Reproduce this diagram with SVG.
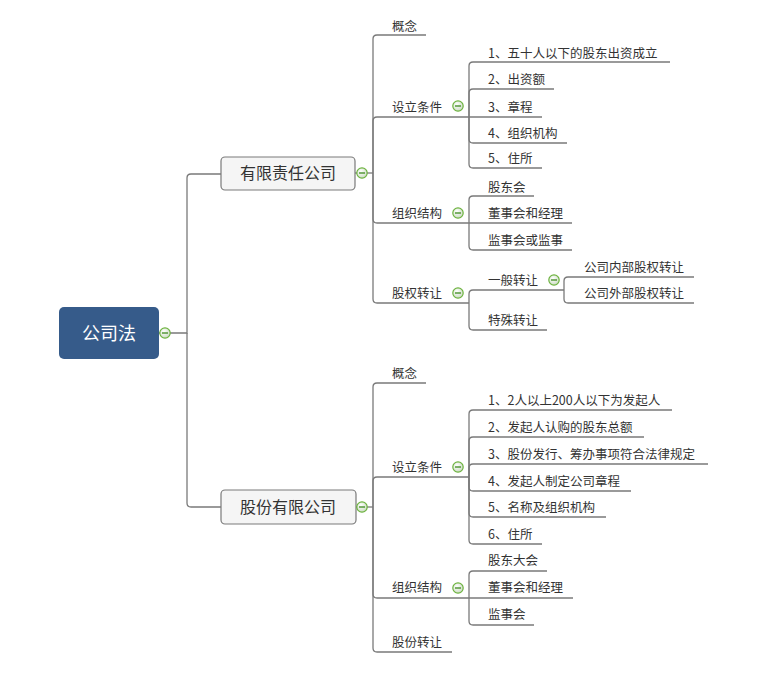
<svg xmlns="http://www.w3.org/2000/svg" width="760" height="673" viewBox="0 0 760 673">
<defs>
<radialGradient id="cg" cx="40%" cy="35%" r="70%">
<stop offset="0" stop-color="#ffffff"/>
<stop offset="1" stop-color="#c9d9c0"/>
</radialGradient>
<g id="minus">
<circle cx="0" cy="0" r="5.2" fill="url(#cg)" stroke="#6db33f" stroke-width="1.2"/>
<line x1="-3" y1="0" x2="3" y2="0" stroke="#3d8a1e" stroke-width="1.3"/>
</g>
</defs>
<style>
.ln{fill:none;stroke:#7a7a7a;stroke-width:1.3}
.t{font-family:"Noto Sans CJK SC","Liberation Sans",sans-serif;font-size:12.5px;fill:#333}
.t1{font-family:"Noto Sans CJK SC","Liberation Sans",sans-serif;font-size:16px;fill:#333;text-anchor:middle}
.box{fill:#f5f5f5;stroke:#7a7a7a;stroke-width:1.2}
</style>
<rect width="760" height="673" fill="#ffffff"/>
<g id="connectors">
<path class="ln" d="M159,333 H187 V178 Q187,174 191,174 H221"/>
<path class="ln" d="M187,333 V503 Q187,507 191,507 H221"/>
<path class="ln" d="M355,173 H373"/>
<path class="ln" d="M373,173 V39 Q373,35 377,35 H426"/>
<path class="ln" d="M373,173 V121 Q373,117 377,117 H469"/>
<path class="ln" d="M373,173 V219 Q373,223 377,223 H469"/>
<path class="ln" d="M373,173 V299 Q373,303 377,303 H469"/>
<path class="ln" d="M469,117 V66 Q469,62 473,62 H670"/>
<path class="ln" d="M469,117 V93 Q469,89 473,89 H554"/>
<path class="ln" d="M469,117 H542"/>
<path class="ln" d="M469,117 V139 Q469,143 473,143 H567"/>
<path class="ln" d="M469,117 V164 Q469,168 473,168 H542"/>
<path class="ln" d="M469,223 V200 Q469,196 473,196 H534"/>
<path class="ln" d="M469,223 H572"/>
<path class="ln" d="M469,223 V246 Q469,250 473,250 H572"/>
<path class="ln" d="M469,303 V294 Q469,290 473,290 H564"/>
<path class="ln" d="M469,303 V326 Q469,330 473,330 H547"/>
<path class="ln" d="M564,290 V281 Q564,277 568,277 H694"/>
<path class="ln" d="M564,290 V299 Q564,303 568,303 H694"/>
<path class="ln" d="M355,507 H373"/>
<path class="ln" d="M373,507 V387 Q373,383 377,383 H426"/>
<path class="ln" d="M373,507 V481 Q373,477 377,477 H469"/>
<path class="ln" d="M373,507 V594 Q373,598 377,598 H469"/>
<path class="ln" d="M373,507 V648 Q373,652 377,652 H452"/>
<path class="ln" d="M469,477 V414 Q469,410 473,410 H672"/>
<path class="ln" d="M469,477 V441 Q469,437 473,437 H644"/>
<path class="ln" d="M469,477 V468 Q469,464 473,464 H708"/>
<path class="ln" d="M469,477 V487 Q469,491 473,491 H631"/>
<path class="ln" d="M469,477 V513 Q469,517 473,517 H606"/>
<path class="ln" d="M469,477 V540 Q469,544 473,544 H542"/>
<path class="ln" d="M469,598 V575 Q469,571 473,571 H547"/>
<path class="ln" d="M469,598 H573"/>
<path class="ln" d="M469,598 V621 Q469,625 473,625 H534"/>
</g>
<g id="root">
<rect x="59" y="307" width="100" height="52" rx="5" fill="#365b8a"/>
<text x="109" y="339.5" font-family="Noto Sans CJK SC, Liberation Sans, sans-serif" font-size="18" fill="#ffffff" text-anchor="middle">公司法</text>
<use href="#minus" x="165" y="333"/>
</g>
<g id="n-youxian">
<rect class="box" x="221" y="157" width="134" height="33" rx="4"/>
<text class="t1" x="288" y="179">有限责任公司</text>
<use href="#minus" x="362" y="173"/>
</g>
<g id="n-gufen">
<rect class="box" x="221" y="490" width="135" height="34" rx="4"/>
<text class="t1" x="288" y="512.5">股份有限公司</text>
<use href="#minus" x="362" y="507"/>
</g>
<g id="n-a-gainian"><text class="t" x="392" y="30.5">概念</text></g>
<g id="n-a-sheli"><text class="t" x="392" y="112">设立条件</text><use href="#minus" x="458" y="106"/></g>
<g id="n-a1"><text class="t" x="488" y="57.5">1、五十人以下的股东出资成立</text></g>
<g id="n-a2"><text class="t" x="488" y="84">2、出资额</text></g>
<g id="n-a3"><text class="t" x="488" y="112">3、章程</text></g>
<g id="n-a4"><text class="t" x="488" y="138">4、组织机构</text></g>
<g id="n-a5"><text class="t" x="488" y="163">5、住所</text></g>
<g id="n-a-zuzhi"><text class="t" x="392" y="218">组织结构</text><use href="#minus" x="458" y="213"/></g>
<g id="n-a-gudonghui"><text class="t" x="488" y="191.5">股东会</text></g>
<g id="n-a-dongshi"><text class="t" x="488" y="218">董事会和经理</text></g>
<g id="n-a-jianshi"><text class="t" x="488" y="245">监事会或监事</text></g>
<g id="n-a-guquan"><text class="t" x="392" y="298">股权转让</text><use href="#minus" x="458" y="293"/></g>
<g id="n-a-yiban"><text class="t" x="488" y="284.5">一般转让</text><use href="#minus" x="554" y="280"/></g>
<g id="n-a-neibu"><text class="t" x="584" y="272">公司内部股权转让</text></g>
<g id="n-a-waibu"><text class="t" x="584" y="298">公司外部股权转让</text></g>
<g id="n-a-teshu"><text class="t" x="488" y="325">特殊转让</text></g>
<g id="n-b-gainian"><text class="t" x="392" y="378">概念</text></g>
<g id="n-b-sheli"><text class="t" x="392" y="472">设立条件</text><use href="#minus" x="458" y="467"/></g>
<g id="n-b1"><text class="t" x="488" y="405">1、2人以上200人以下为发起人</text></g>
<g id="n-b2"><text class="t" x="488" y="432">2、发起人认购的股东总额</text></g>
<g id="n-b3"><text class="t" x="488" y="458.5">3、股份发行、筹办事项符合法律规定</text></g>
<g id="n-b4"><text class="t" x="488" y="485.5">4、发起人制定公司章程</text></g>
<g id="n-b5"><text class="t" x="488" y="512">5、名称及组织机构</text></g>
<g id="n-b6"><text class="t" x="488" y="539">6、住所</text></g>
<g id="n-b-zuzhi"><text class="t" x="392" y="592">组织结构</text><use href="#minus" x="458" y="588"/></g>
<g id="n-b-gudong"><text class="t" x="488" y="565">股东大会</text></g>
<g id="n-b-dongshi"><text class="t" x="488" y="592">董事会和经理</text></g>
<g id="n-b-jianshi"><text class="t" x="488" y="619">监事会</text></g>
<g id="n-b-gufen"><text class="t" x="392" y="647">股份转让</text></g>
</svg>
